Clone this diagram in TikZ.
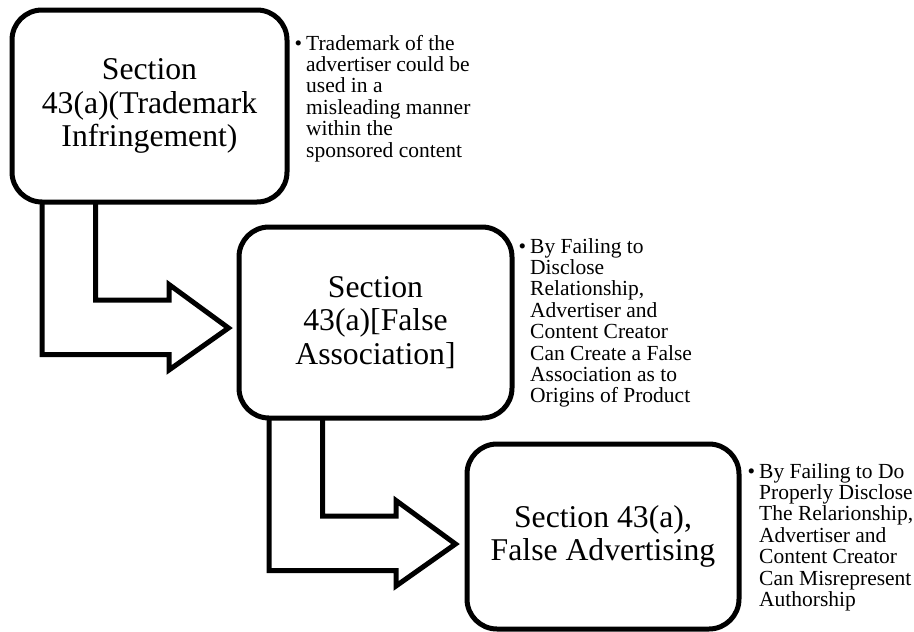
\documentclass[tikz,border=0pt]{standalone}
\usepackage{fontspec}
\setmainfont{Liberation Serif}
\usetikzlibrary{calc,backgrounds}
\begin{document}
\begin{tikzpicture}[x=1pt,y=-1pt,
  secbox/.style={draw=black, line width=5pt, rounded corners=30pt, fill=white, inner sep=0pt, align=center, font=\fontsize{31.7}{33.5}\selectfont},
  bentarrow/.style={draw=black, line width=5pt, line join=miter, fill=white},
  bullettext/.style={inner sep=0pt, anchor=base west, font=\fontsize{21.5}{21.4}\selectfont}]
\useasboundingbox (0,0) rectangle (914,632);
\node[secbox, minimum width=275pt, minimum height=192pt] (b1) at (149.5,106) {Section\\43(a)(Trademark\\Infringement)};
\node[secbox, minimum width=273pt, minimum height=191pt] (b2) at (375.5,322.5) {Section\\43(a)[False\\Association]};
\node[secbox, minimum width=272pt, minimum height=185pt] (b3) at (603,536.5) {Section 43(a),\\False Advertising};
\begin{scope}[on background layer]
\draw[bentarrow] ($(b1.south west)+(32.5,-3)$) -- ++(0,153) -- ++(127,0) -- ++(0,15.5) -- ++(59.5,-42) -- ++(-59.5,-43.5) -- ++(0,15.5) -- ++(-73.5,0) -- ++(0,-98.5);
\draw[bentarrow] ($(b2.south west)+(32.5,-3)$) -- ++(0,153) -- ++(127,0) -- ++(0,15.5) -- ++(59.5,-42) -- ++(-59.5,-43.5) -- ++(0,15.5) -- ++(-73.5,0) -- ++(0,-98.5);
\end{scope}
\node[bullettext] (t1) at (306,50) {\begin{tabular}[t]{@{}l@{}}\llap{•\hspace{4pt}}Trademark of the\\advertiser could be\\used in a\\misleading manner\\within the\\sponsored content\end{tabular}};
\node[bullettext] (t2) at (530,253) {\begin{tabular}[t]{@{}l@{}}\llap{•\hspace{4pt}}By Failing to\\Disclose\\Relationship,\\Advertiser and\\Content Creator\\Can Create a False\\Association as to\\Origins of Product\end{tabular}};
\node[bullettext] (t3) at (759,478) {\begin{tabular}[t]{@{}l@{}}\llap{•\hspace{4pt}}By Failing to Do\\Properly Disclose\\The Relarionship,\\Advertiser and\\Content Creator\\Can Misrepresent\\Authorship\end{tabular}};
\end{tikzpicture}
\end{document}
